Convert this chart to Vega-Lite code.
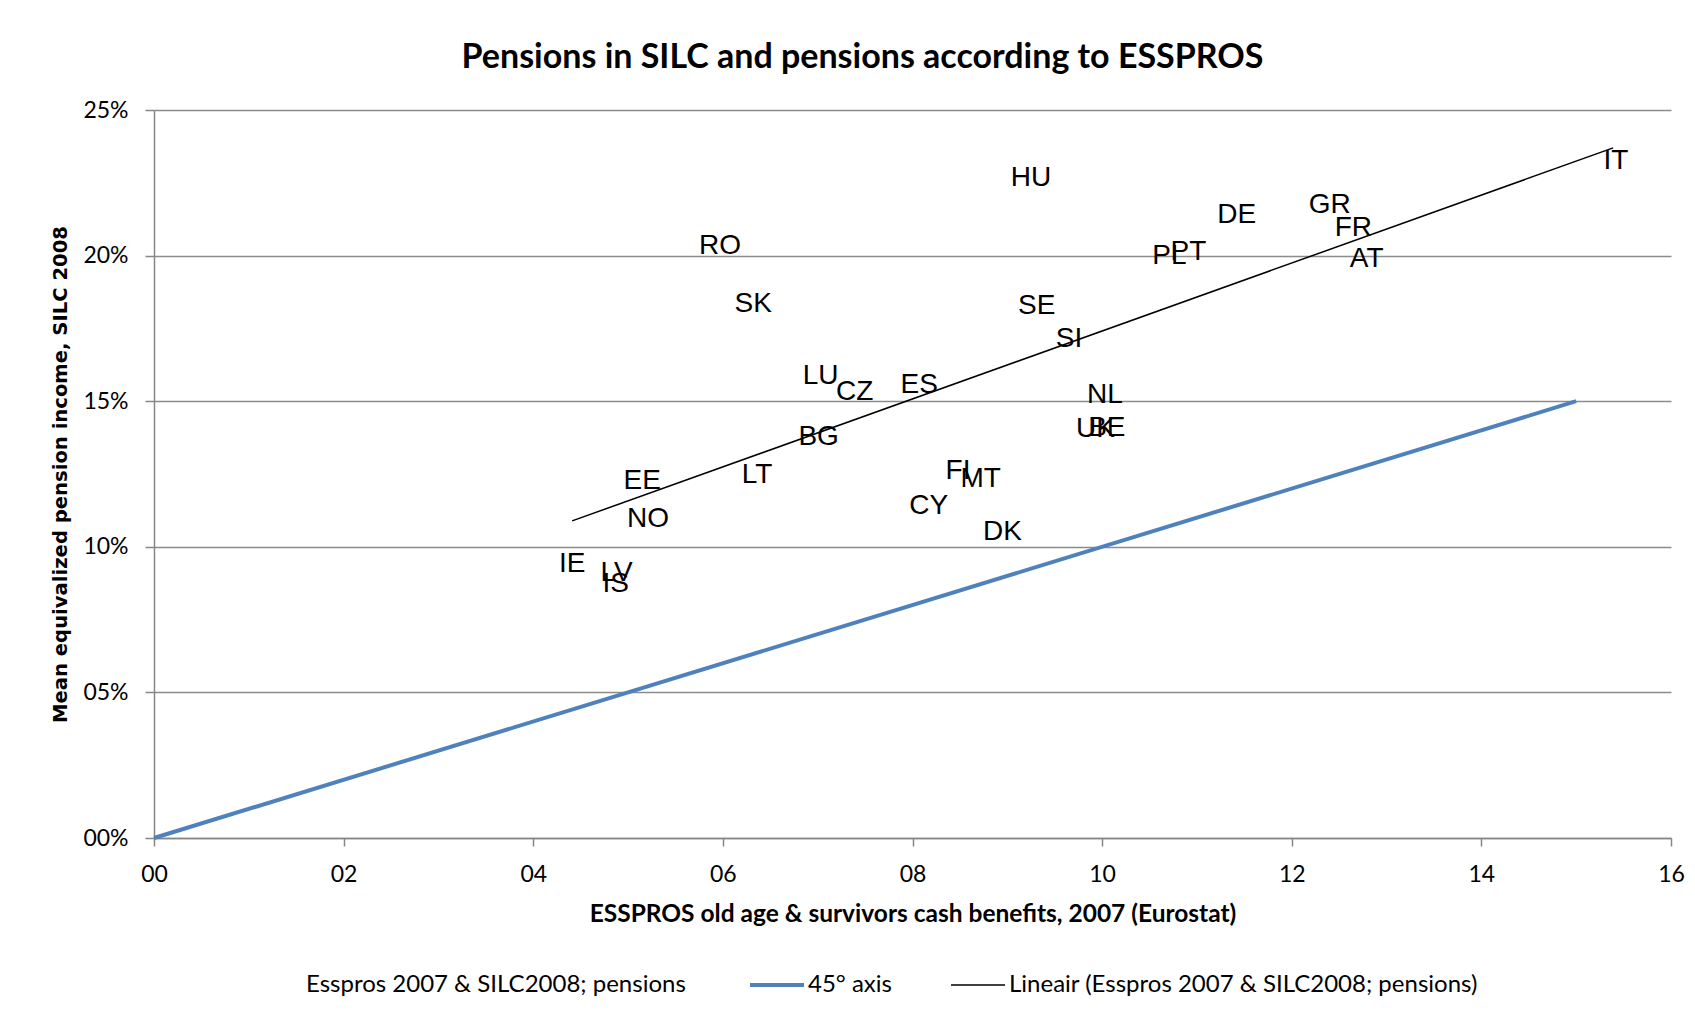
{
  "$schema": "https://vega.github.io/schema/vega-lite/v6.json",
  "width": 1517,
  "height": 728,
  "autosize": {"type": "none"},
  "padding": {"left": 154, "top": 110, "right": 24, "bottom": 184},
  "background": "white",
  "title": {
    "text": "Pensions in SILC and pensions according to ESSPROS",
    "font": "Lato",
    "fontSize": 34,
    "fontWeight": "bold",
    "color": "#000000",
    "anchor": "middle",
    "dx": -50,
    "dy": 7,
    "offset": 4,
    "baseline": "alphabetic"
  },
  "config": {
    "view": {"stroke": null},
    "legend": {"labelLimit": 1000}
  },
  "datasets": {
    "labels": [
      {"code": "IT", "x": 15.42, "y": 0.2331},
      {"code": "HU", "x": 9.25, "y": 0.2274},
      {"code": "DE", "x": 11.42, "y": 0.2148},
      {"code": "GR", "x": 12.40, "y": 0.2182},
      {"code": "FR", "x": 12.65, "y": 0.2100},
      {"code": "AT", "x": 12.79, "y": 0.1994},
      {"code": "RO", "x": 5.97, "y": 0.2039},
      {"code": "PL", "x": 10.71, "y": 0.2005},
      {"code": "PT", "x": 10.91, "y": 0.2020},
      {"code": "SK", "x": 6.32, "y": 0.1839},
      {"code": "SE", "x": 9.31, "y": 0.1833},
      {"code": "SI", "x": 9.65, "y": 0.1719},
      {"code": "LU", "x": 7.03, "y": 0.1593},
      {"code": "CZ", "x": 7.39, "y": 0.1539},
      {"code": "ES", "x": 8.07, "y": 0.1562},
      {"code": "NL", "x": 10.03, "y": 0.1528},
      {"code": "UK", "x": 9.93, "y": 0.1412},
      {"code": "BE", "x": 10.05, "y": 0.1414},
      {"code": "BG", "x": 7.01, "y": 0.1384},
      {"code": "EE", "x": 5.15, "y": 0.1233},
      {"code": "LT", "x": 6.36, "y": 0.1253},
      {"code": "FI", "x": 8.48, "y": 0.1267},
      {"code": "MT", "x": 8.72, "y": 0.1238},
      {"code": "CY", "x": 8.17, "y": 0.1147},
      {"code": "NO", "x": 5.21, "y": 0.1102},
      {"code": "DK", "x": 8.95, "y": 0.1058},
      {"code": "IE", "x": 4.41, "y": 0.0949},
      {"code": "LV", "x": 4.88, "y": 0.0918},
      {"code": "IS", "x": 4.87, "y": 0.0878}
    ],
    "axis45": [
      {"series": "45° axis", "x": 0, "y": 0},
      {"series": "45° axis", "x": 15, "y": 0.15}
    ],
    "trend": [
      {"series": "Lineair (Esspros 2007 & SILC2008; pensions)", "x": 4.41, "y": 0.1089},
      {"series": "Lineair (Esspros 2007 & SILC2008; pensions)", "x": 15.39, "y": 0.2370}
    ]
  },
  "encoding": {
    "x": {
      "field": "x",
      "type": "quantitative",
      "scale": {"domain": [0, 16], "nice": false, "zero": true},
      "axis": {
        "values": [0, 2, 4, 6, 8, 10, 12, 14, 16],
        "format": "02d",
        "labelFlush": false,
        "title": "ESSPROS old age & survivors cash benefits, 2007 (Eurostat)",
        "titleFont": "Lato",
        "titleFontSize": 24.5,
        "titleFontWeight": "bold",
        "titleColor": "#000000",
        "titleBaseline": "alphabetic",
        "titleX": 758.5,
        "titleY": 83,
        "titleAlign": "center",
        "grid": false,
        "domainColor": "#868686",
        "domainWidth": 1.5,
        "tickColor": "#868686",
        "tickWidth": 1.5,
        "tickSize": 8,
        "labelFont": "Lato",
        "labelFontSize": 23,
        "labelColor": "#000000",
        "labelPadding": 17
      }
    },
    "y": {
      "field": "y",
      "type": "quantitative",
      "scale": {"domain": [0, 0.25], "nice": false, "zero": true},
      "axis": {
        "values": [0, 0.05, 0.1, 0.15, 0.2, 0.25],
        "format": "03.0%",
        "labelFlush": false,
        "title": "Mean equivalized pension income, SILC 2008",
        "titleFont": "DejaVu Sans",
        "titleFontSize": 19.6,
        "titleFontWeight": "bold",
        "titleColor": "#000000",
        "titleBaseline": "alphabetic",
        "titleAngle": 270,
        "titleAlign": "center",
        "titleX": -88,
        "titleY": 364,
        "grid": true,
        "gridColor": "#8c8c8c",
        "gridWidth": 1.3,
        "domainColor": "#868686",
        "domainWidth": 1.5,
        "tickColor": "#868686",
        "tickWidth": 1.5,
        "tickSize": 9,
        "labelFont": "Lato",
        "labelFontSize": 23,
        "labelColor": "#000000",
        "labelPadding": 17
      }
    }
  },
  "layer": [
    {
      "data": {"name": "axis45"},
      "mark": {"type": "line", "strokeWidth": 4, "strokeCap": "butt"},
      "encoding": {
        "color": {
          "field": "series",
          "type": "nominal",
          "scale": {
            "domain": ["Esspros 2007 & SILC2008; pensions", "45° axis", "Lineair (Esspros 2007 & SILC2008; pensions)"],
            "range": ["transparent", "#4F81BD", "#000000"]
          },
          "legend": {
            "title": null,
            "orient": "none",
            "direction": "horizontal",
            "legendX": 109,
            "legendY": 863,
            "padding": 0,
            "symbolType": "stroke",
            "symbolSize": 2916,
            "symbolStrokeWidth": 1.5,
            "labelFont": "Lato",
            "labelFontSize": 24,
            "labelColor": "#000000",
            "labelOffset": 19,
            "columnPadding": 56,
            "labelLimit": 1000,
            "encode": {
              "symbols": {"update": {"strokeWidth": {"signal": "datum.label === '45° axis' ? 4 : 1.5"}}}
            }
          }
        }
      }
    },
    {
      "data": {"name": "trend"},
      "mark": {"type": "line", "strokeWidth": 1.5, "color": "#000000"},
      "encoding": {}
    },
    {
      "data": {"name": "labels"},
      "mark": {"type": "text", "font": "Liberation Sans", "fontSize": 28, "align": "center", "baseline": "alphabetic", "dy": 10, "color": "#000000"},
      "encoding": {"text": {"field": "code", "type": "nominal"}}
    }
  ]
}
